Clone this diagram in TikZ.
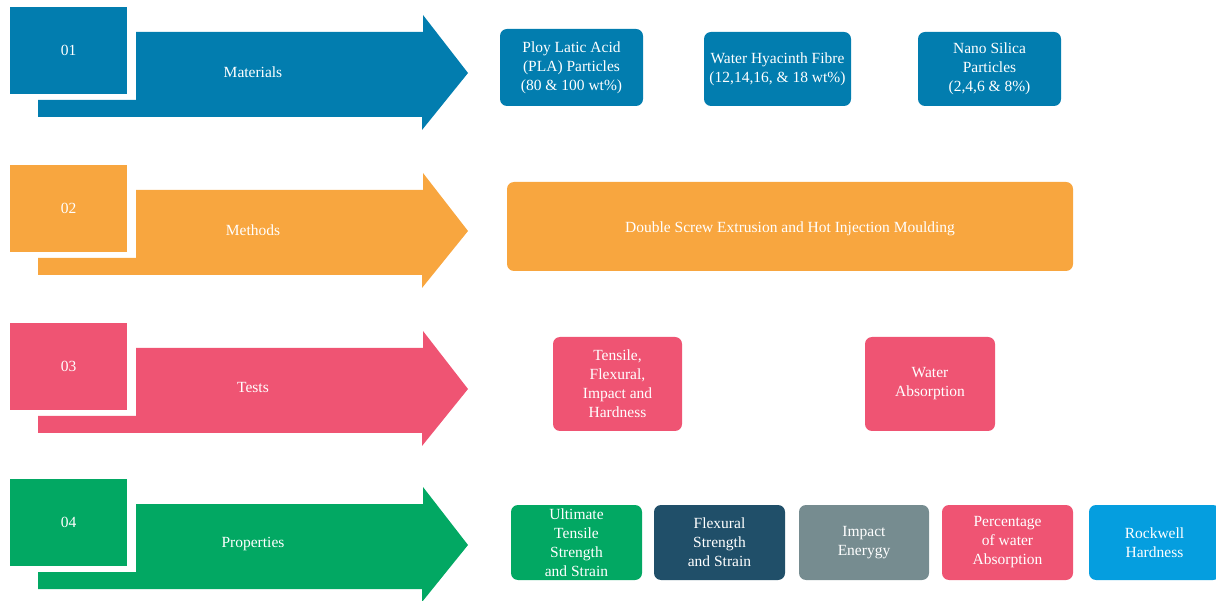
\documentclass[tikz,border=0pt]{standalone}
\usepackage{fontspec}
\setmainfont{Liberation Serif}
\definecolor{cblue}{HTML}{027DAF}
\definecolor{corange}{HTML}{F8A63F}
\definecolor{cpink}{HTML}{EF5473}
\definecolor{cgreen}{HTML}{02A863}
\definecolor{cnavy}{HTML}{204F69}
\definecolor{cgray}{HTML}{768C90}
\definecolor{cbright}{HTML}{059EDF}
\begin{document}
\begin{tikzpicture}[x=1pt,y=-1pt,
  txt/.style={text=white,font=\fontsize{15.5}{19}\selectfont,align=center,inner sep=0pt},
  box/.style={txt,fill=#1,rounded corners=7pt},
  numsq/.style={txt,fill=#1,minimum width=117pt,minimum height=87pt}]
\useasboundingbox (0,0) rectangle (1216,601);
\clip (0,0) rectangle (1216,601);
\foreach \off/\col/\num/\lab in {0/cblue/01/Materials,158/corange/02/Methods,316/cpink/03/Tests,472/cgreen/04/Properties}{
  \fill[\col] (136,32+\off) -- (136,100+\off) -- (38,100+\off) -- (38,117+\off)
     -- (422,117+\off) -- (422,130+\off) -- (468,73+\off) -- (423,15+\off)
     -- (423,32+\off) -- cycle;
  \node[numsq=\col] (n\num) at (68.5,50.5+\off) {\num};
  \node[txt] (l\num) at (253,72+\off) {\lab};
}
% Row 1
\node[box=cblue,minimum width=143pt,minimum height=77pt] (pla) at (571.5,67.5) {Ploy Latic Acid\\(PLA) Particles\\(80 \& 100 wt\%)};
\node[box=cblue,minimum width=147pt,minimum height=74pt] (whf) at (777.5,69) {Water Hyacinth Fibre\\(12,14,16, \& 18 wt\%)};
\node[box=cblue,minimum width=143pt,minimum height=74pt] (nsp) at (989.5,69) {Nano Silica\\Particles\\(2,4,6 \& 8\%)};
% Row 2
\node[box=corange,minimum width=566pt,minimum height=89pt,text height=13pt,text depth=0pt] (dse) at (790,226.5) {Double Screw Extrusion and Hot Injection Moulding};
% Row 3
\node[box=cpink,minimum width=129pt,minimum height=94pt] (tfi) at (617.5,384) {Tensile,\\Flexural,\\Impact and\\Hardness};
\node[box=cpink,minimum width=130pt,minimum height=94pt] (wab) at (930,384) {Water\\Absorption};
% Row 4
\node[box=cgreen,minimum width=131pt,minimum height=75pt] (uts) at (576.5,542.5) {Ultimate\\Tensile\\Strength\\and Strain};
\node[box=cnavy,minimum width=131pt,minimum height=75pt] (fss) at (719.5,542.5) {Flexural\\Strength\\and Strain};
\node[box=cgray,minimum width=130pt,minimum height=75pt] (ien) at (864,542.5) {Impact\\Enerygy};
\node[box=cpink,minimum width=131pt,minimum height=75pt] (pwa) at (1007.5,542.5) {Percentage\\of water\\Absorption};
\node[box=cbright,minimum width=131pt,minimum height=75pt] (rhd) at (1154.5,542.5) {Rockwell\\Hardness};
\end{tikzpicture}
\end{document}
